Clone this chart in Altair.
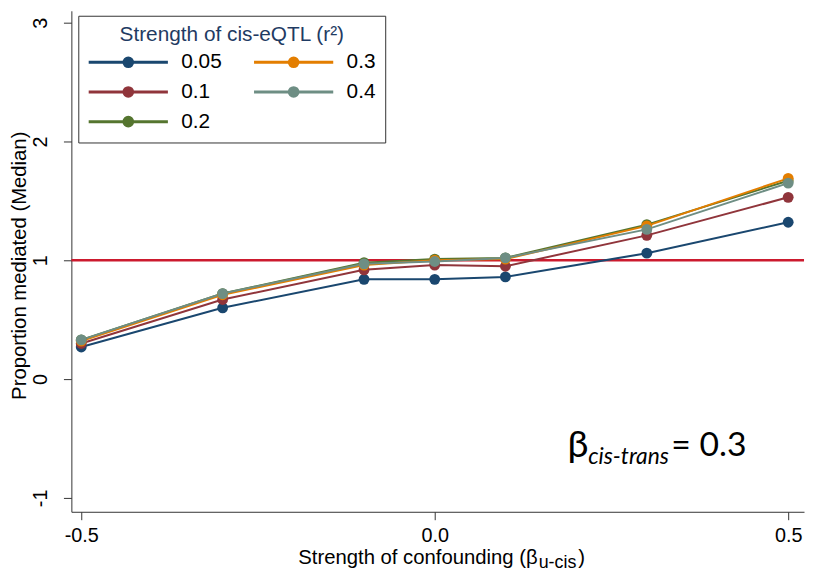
import altair as alt
import pandas as pd

# ---- data ----
x_vals = [-0.5, -0.3, -0.1, 0.0, 0.1, 0.3, 0.5]
r2_labels = ["0.05", "0.1", "0.2", "0.3", "0.4"]
s005 = [0.27, 0.60, 0.84, 0.84, 0.86, 1.06, 1.32]
s01 = [0.30, 0.67, 0.92, 0.96, 0.95, 1.21, 1.53]
s02 = [0.33, 0.72, 0.98, 1.01, 1.02, 1.30, 1.67]
s03 = [0.32, 0.71, 0.96, 1.00, 1.01, 1.29, 1.69]
s04 = [0.33, 0.72, 0.97, 0.99, 1.02, 1.26, 1.65]
series = [s005, s01, s02, s03, s04]
ref_line = [1.0]
x_ticks = [-0.5, 0.0, 0.5]
y_ticks = [-1, 0, 1, 2, 3]

colors = {"0.05": "#1a476f", "0.1": "#90353b", "0.2": "#55752f",
          "0.3": "#e37e00", "0.4": "#6e8e84"}
legend_order = r2_labels

legend_title = "Strength of cis-eQTL (r\u00b2)"
y_title = "Proportion mediated (Median)"
x_title_main = "Strength of confounding (\u03b2"
x_title_sub = "u-cis"
x_title_end = ")"
ann_beta = "\u03b2"
ann_sub = "cis-trans"
ann_rest = "= 0.3"

rows = []
for lab, vals in zip(r2_labels, series):
    for xv, yv in zip(x_vals, vals):
        rows.append({"x": xv, "y": yv, "r2": lab})
df = pd.DataFrame(rows)

FONT = "Liberation Sans"

xscale = alt.Scale(domain=[-0.514, 0.5224], nice=False, zero=False)
yscale = alt.Scale(domain=[-1.1167, 3.1], nice=False, zero=False)
cscale = alt.Scale(domain=legend_order, range=[colors[k] for k in legend_order])

symbol_path = ("M-1,0L1,0M-0.11,0A0.11,0.11,0,1,0,0.11,0"
               "A0.11,0.11,0,1,0,-0.11,0Z")

leg = alt.Legend(
    title=legend_title, orient="none", legendX=7, legendY=5, columns=2,
    symbolType=symbol_path, symbolSize=6400, symbolStrokeWidth=3,
    symbolOpacity=1,
    titleFontSize=21, titleFont=FONT, titleFontWeight="normal",
    titleColor="#1f3b63", titleAnchor="middle", titlePadding=5,
    titleLimit=400,
    labelFontSize=21, labelFont=FONT, labelColor="black", labelOffset=12,
    columnPadding=31, rowPadding=6, clipHeight=24, padding=9,
    strokeColor="#333333", fillColor="white", cornerRadius=0,
)

x_enc = alt.X("x:Q", scale=xscale, axis=alt.Axis(
    values=x_ticks, title=None, labelFontSize=20, labelFont=FONT,
    labelColor="black", labelPadding=6, tickSize=8, tickColor="#333333",
    domainColor="#333333", grid=False,
    labelExpr="replace(format(datum.value, '.1f'), '\u2212', '-')"))
y_enc = alt.Y("y:Q", scale=yscale, axis=alt.Axis(
    values=y_ticks, title=y_title, titleFontSize=20.5, titleFont=FONT,
    titleFontWeight="normal", titleColor="black", titleX=-52, titleY=257,
    titleAngle=270, titleBaseline="middle", titleAlign="center",
    labelAngle=270, labelFontSize=20, labelFont=FONT, labelColor="black",
    labelPadding=13, tickSize=8, tickColor="#333333", domainColor="#333333",
    grid=False, labelExpr="replace(format(datum.value, 'd'), '\u2212', '-')"))

rule = alt.Chart(pd.DataFrame({"y": ref_line})).mark_rule(
    color="#cc1a2e", strokeWidth=2.5).encode(y=alt.Y("y:Q", scale=yscale))

lines = alt.Chart(df).mark_line(strokeWidth=2).encode(
    x=x_enc, y=y_enc,
    stroke=alt.Stroke("r2:N", scale=cscale, legend=leg))

points = alt.Chart(df).mark_circle(size=120, opacity=1).encode(
    x=alt.X("x:Q", scale=xscale), y=alt.Y("y:Q", scale=yscale),
    fill=alt.Fill("r2:N", scale=cscale, legend=leg))

def label(txt, x, y, size, align="left", font=FONT, style="normal"):
    return alt.Chart(pd.DataFrame({"t": [txt]})).mark_text(
        align=align, baseline="alphabetic", fontSize=size, font=font,
        fontStyle=style, color="black").encode(
        x=alt.value(x), y=alt.value(y), text="t:N")

xt1 = label(x_title_main, 471, 559, 20.5, align="right")
xt2 = label(x_title_sub, 472, 563, 18)
xt3 = label(x_title_end, 512, 559, 20.5)
a1 = label(ann_beta, 501, 451, 38, font="Lato")
a2 = label(ann_sub, 522, 458, 23, font="Lato", style="italic")
a3 = label(ann_rest, 606, 450, 34, font="Lato")

chart = alt.layer(rule, lines, points, xt1, xt2, xt3, a1, a2, a3).properties(
    width=740, height=506,
    autosize=alt.AutoSizeParams(type="none"),
    padding={"left": 64, "top": 0, "right": 2, "bottom": 58},
    background="white",
).configure_view(stroke=None)

chart.save("out.html", embed_options={"renderer": "svg", "actions": False})
